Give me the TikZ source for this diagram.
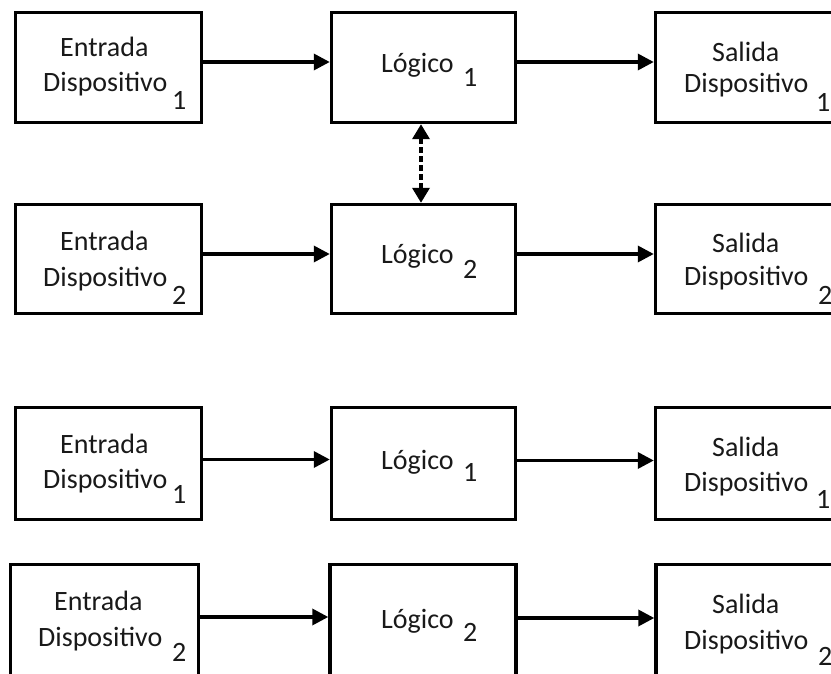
\documentclass[tikz,border=0pt]{standalone}
\usepackage{fontspec}
\setmainfont{Carlito}
\usetikzlibrary{arrows.meta}

\tikzset{
  blk/.style={draw=black, line width=3.4pt, inner sep=0pt, minimum width=186pt},
  txt/.style={anchor=base west, inner sep=0pt, text=black!90,
              font=\fontsize{28}{34}\selectfont},
  flow/.style={line width=3.4pt, -{Triangle[length=16pt, width=16pt]}},
  link/.style={line width=3.4pt, dash pattern=on 6pt off 3pt,
               {Triangle[length=15pt, width=17pt]}-{Triangle[length=15pt, width=17pt]}}
}

\begin{document}
\begin{tikzpicture}[x=1pt, y=-1pt]
\useasboundingbox (0,0) rectangle (831,674);
\clip (0,0) rectangle (831,674);

% first system
\node[blk, minimum height=110pt] (e1) at (108.5,67.5) {};
\node[blk, minimum height=110pt, minimum width=184pt] (l1) at (423.5,67.5) {};
\node[blk, minimum height=110pt, minimum width=184pt] (s1) at (747.5,67.5) {};

\node[blk, minimum height=109pt] (e2) at (108.5,259) {};
\node[blk, minimum height=109pt, minimum width=184pt] (l2) at (423.5,259) {};
\node[blk, minimum height=109pt, minimum width=184pt] (s2) at (747.5,259) {};

% second system
\node[blk, minimum height=112pt] (e3) at (108.5,463.5) {};
\node[blk, minimum height=112pt, minimum width=184pt] (l3) at (423.5,463.5) {};
\node[blk, minimum height=112pt, minimum width=184pt] (s3) at (747.5,463.5) {};

\node[blk, minimum height=112pt, minimum width=188pt] (e4) at (104.5,620.5) {};
\node[blk, minimum height=112pt, minimum width=186pt] (l4) at (423,620.5) {};
\node[blk, minimum height=112pt, minimum width=184pt] (s4) at (748,620.5) {};

% labels, first system
\node[txt] (e1a) at (60,57) {Entrada};
\node[txt] (e1b) at (43,92) {Dispositivo};
\node[txt] (e1c) at (172,110) {1};
\node[txt] (l1a) at (381,73) {Lógico};
\node[txt] (l1b) at (463,87) {1};
\node[txt] (s1a) at (712,62) {Salida};
\node[txt] (s1b) at (684,93) {Dispositivo};
\node[txt] (s1c) at (816,112) {1};

\node[txt] (e2a) at (60,251) {Entrada};
\node[txt] (e2b) at (43,287) {Dispositivo};
\node[txt] (e2c) at (172,304) {2};
\node[txt] (l2a) at (381,264) {Lógico};
\node[txt] (l2b) at (463,278) {2};
\node[txt] (s2a) at (712,253) {Salida};
\node[txt] (s2b) at (684,285) {Dispositivo};
\node[txt] (s2c) at (818,305) {2};

% labels, second system
\node[txt] (e3a) at (60,453) {Entrada};
\node[txt] (e3b) at (43,488) {Dispositivo};
\node[txt] (e3c) at (172,503) {1};
\node[txt] (l3a) at (381,469) {Lógico};
\node[txt] (l3b) at (463,481) {1};
\node[txt] (s3a) at (712,456) {Salida};
\node[txt] (s3b) at (684,491) {Dispositivo};
\node[txt] (s3c) at (816,508) {1};

\node[txt] (e4a) at (54,610) {Entrada};
\node[txt] (e4b) at (38,646) {Dispositivo};
\node[txt] (e4c) at (172,661) {2};
\node[txt] (l4a) at (381,628) {Lógico};
\node[txt] (l4b) at (463,641) {2};
\node[txt] (s4a) at (712,613) {Salida};
\node[txt] (s4b) at (684,649) {Dispositivo};
\node[txt] (s4c) at (818,665) {2};

% signal flow
\draw[flow] ([yshift=5.5pt]e1.east) -- ([yshift=5.5pt]l1.west);
\draw[flow] ([yshift=5.5pt]l1.east) -- ([yshift=5.5pt]s1.west);
\draw[flow] ([yshift=5pt]e2.east) -- ([yshift=5pt]l2.west);
\draw[flow] ([yshift=5pt]l2.east) -- ([yshift=5pt]s2.west);
\draw[flow] ([yshift=4pt]e3.east) -- ([yshift=4pt]l3.west);
\draw[flow] ([yshift=3pt]l3.east) -- ([yshift=3pt]s3.west);
\draw[flow] ([yshift=3.5pt]e4.east) -- ([yshift=3.5pt]l4.west);
\draw[flow] ([yshift=2.5pt]l4.east) -- ([yshift=2.5pt]s4.west);

% coupling between the two logic blocks
\draw[link] ([xshift=-2.5pt]l1.south) -- ([xshift=-2.5pt]l2.north);
\end{tikzpicture}
\end{document}
